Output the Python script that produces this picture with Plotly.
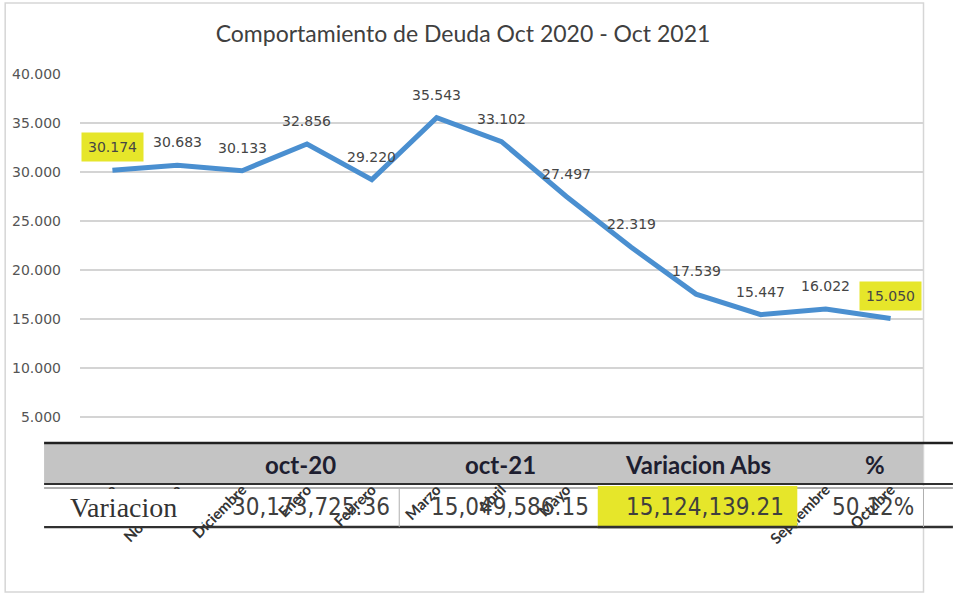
import plotly.graph_objects as go

# ---------------- data ----------------
months = ["Octubre", "Noviembre", "Diciembre", "Enero", "Febrero", "Marzo", "Abril",
          "Mayo", "Junio", "Julio", "Agosto", "Septiembre", "Octubre"]
deuda = [30174, 30683, 30133, 32856, 29220, 35543, 33102, 27497, 22319, 17539, 15447, 16022, 15050]
highlighted = [0, 12]
y_ticks = [5000, 10000, 15000, 20000, 25000, 30000, 35000, 40000]

table_headers = ["oct-20", "oct-21", "Variacion Abs", "%"]
table_row_label = "Variacion"
table_values = ["30,173,725.36", "15,049,586.15", "15,124,139.21", "50.12%"]

title_text = "Comportamiento de Deuda Oct 2020 - Oct 2021"

# ---------------- geometry helpers (pixel -> paper) ----------------
W, H = 953, 594
L, R, T, B = 78, 30, 74, 128
PW, PH = W - L - R, H - T - B


def px(x):
    return (x - L) / PW


def py(y):
    return (H - B - y) / PH


def fmt(v):
    return f"{v:,}".replace(",", ".")


fig = go.Figure()
fig.add_trace(go.Scatter(
    x=list(range(len(months))), y=deuda, mode="lines",
    line=dict(color="#4A8FD0", width=5), hoverinfo="skip", showlegend=False,
))

annotations = []
# data labels
for i, v in enumerate(deuda):
    annotations.append(dict(
        x=i, y=v, xref="x", yref="y", text=fmt(v), showarrow=False,
        yshift=23, font=dict(family="DejaVu Sans", size=14, color="#454545"),
        bgcolor="#E6E62A" if i in highlighted else "rgba(0,0,0,0)",
        borderpad=6 if i in highlighted else 0,
    ))

shapes = []
# chart border
shapes.append(dict(type="rect", xref="paper", yref="paper", x0=px(3), x1=px(923.5),
                   y0=py(3), y1=py(592), line=dict(color="#D6D6D6", width=1.5),
                   fillcolor="rgba(0,0,0,0)", layer="below"))
# table header background
shapes.append(dict(type="rect", xref="paper", yref="paper", x0=px(42), x1=px(923),
                   y0=py(443), y1=py(484), line=dict(width=0), fillcolor="#C4C4C4", layer="below"))
# table data row background
shapes.append(dict(type="rect", xref="paper", yref="paper", x0=px(42), x1=px(953),
                   y0=py(486), y1=py(527), line=dict(width=0), fillcolor="#FFFFFF", layer="below"))
# horizontal rules
for yy, wdt, col in [(443, 2.5, "#202020"), (484, 2, "#303030"), (488, 1, "#606060"), (527, 2.5, "#303030")]:
    shapes.append(dict(type="line", xref="paper", yref="paper", x0=px(42), x1=px(953),
                       y0=py(yy), y1=py(yy), line=dict(color=col, width=wdt), layer="below"))
# vertical cell separators
for xx in [398, 923.5]:
    shapes.append(dict(type="line", xref="paper", yref="paper", x0=px(xx), x1=px(xx),
                       y0=py(488), y1=py(527), line=dict(color="#B0B0B0", width=1), layer="below"))
# opaque cells above tick labels
shapes.append(dict(type="rect", xref="paper", yref="paper", x0=px(42), x1=px(200),
                   y0=py(489), y1=py(526), line=dict(width=0), fillcolor="#FFFFFF", layer="above"))
shapes.append(dict(type="rect", xref="paper", yref="paper", x0=px(597), x1=px(797),
                   y0=py(486), y1=py(527), line=dict(width=0), fillcolor="#E6E62A", layer="above"))
shapes.append(dict(type="line", xref="paper", yref="paper", x0=px(597), x1=px(797),
                   y0=py(527), y1=py(527), line=dict(color="#303030", width=2.5), layer="above"))

# table header text
header_centers = [299, 499, 697, 875]
for txt, cx in zip(table_headers, header_centers):
    annotations.append(dict(x=px(cx), y=py(464), xref="paper", yref="paper", text=txt,
                            showarrow=False, xanchor="center", yanchor="middle",
                            font=dict(family="Lato", size=24, color="#1E1E30", weight="bold")))
# table row label
annotations.append(dict(x=px(122), y=py(507), xref="paper", yref="paper", text=table_row_label,
                        showarrow=False, xanchor="center", yanchor="middle",
                        font=dict(family="Liberation Serif", size=28, color="#333333")))
value_right = [391, 590, 786, 916]
for txt, rx in zip(table_values, value_right):
    annotations.append(dict(x=px(rx), y=py(507), xref="paper", yref="paper", text=txt,
                            showarrow=False, xanchor="right", yanchor="middle",
                            font=dict(family="DejaVu Sans Condensed, Roboto, sans-serif",
                                      size=24, color="#3F3F3F")))

fig.update_layout(
    width=W, height=H,
    margin=dict(l=L, r=R, t=T, b=B),
    paper_bgcolor="white", plot_bgcolor="white",
    separators=",.",
    title=dict(text=title_text, x=463 / W, xref="container", xanchor="center",
               y=1 - 34 / H, yref="container", yanchor="middle",
               font=dict(family="Lato", size=23, color="#404040")),
    xaxis=dict(range=[-0.5, len(months) - 0.5], tickvals=list(range(len(months))), ticktext=months,
               tickangle=-45, showgrid=False, zeroline=False, showline=False, ticks="",
               ticklabelstandoff=11,
               tickfont=dict(family="Lato", size=15, color="#333333", weight="bold")),
    yaxis=dict(range=[0, 40000], tickvals=y_ticks, tickformat=",.0f", showgrid=True,
               gridcolor="#D4D4D4", gridwidth=1.5, zeroline=False, showline=False, ticks="",
               ticklabelstandoff=18,
               tickfont=dict(family="DejaVu Sans", size=14, color="#555555")),
    shapes=shapes,
    annotations=annotations,
)

fig.write_html("out.html", config={"displayModeBar": False},
               post_script="document.body.style.margin='0px';")
